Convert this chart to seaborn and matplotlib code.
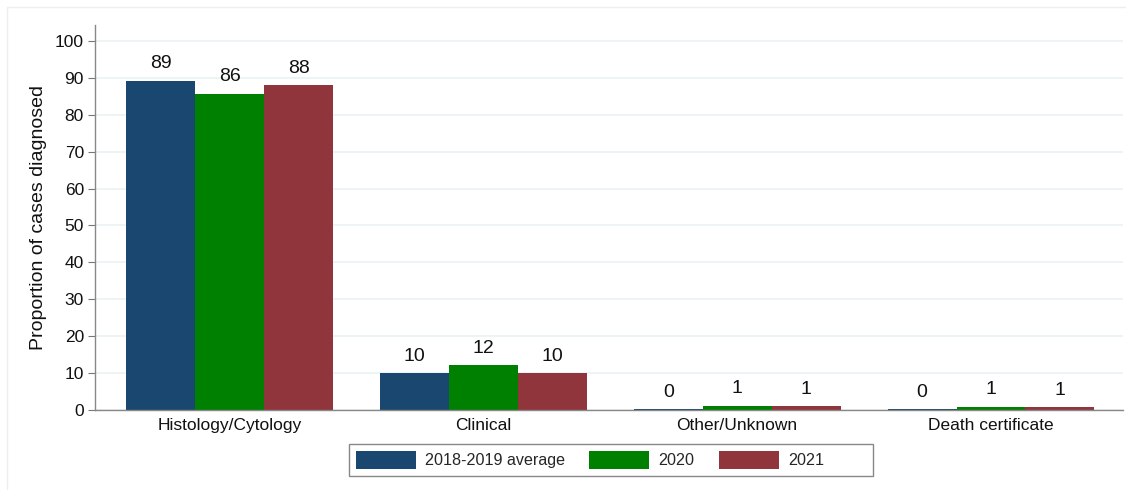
import pandas as pd
import matplotlib
matplotlib.use('Agg')
import matplotlib.pyplot as plt
import seaborn as sns
from matplotlib.patches import Rectangle

# Data
methods = ['Histology/Cytology', 'Clinical', 'Other/Unknown', 'Death certificate']
periods = ['2018-2019 average', '2020', '2021']
avg_1819 = [89.2, 10.0, 0.3, 0.3]
y2020 = [85.7, 12.2, 1.2, 0.9]
y2021 = [88.0, 10.0, 1.1, 0.8]
colors = ['#1a476f', '#008000', '#90353b']

df = pd.DataFrame({
    'method': methods * 3,
    'period': [periods[0]] * 4 + [periods[1]] * 4 + [periods[2]] * 4,
    'pct': avg_1819 + y2020 + y2021,
})

sns.set_style('white')
plt.rcParams['font.family'] = ['Liberation Sans', 'DejaVu Sans']
plt.rcParams['font.size'] = 12

W, H = 1126, 490
fig = plt.figure(figsize=(W / 100, H / 100), dpi=100)
ax = fig.add_axes([0.0844, 0.1633, 0.9129, 0.7857])

sns.barplot(data=df, x='method', y='pct', hue='period', order=methods,
            hue_order=periods, palette=colors, saturation=1, width=0.815,
            edgecolor='none', linewidth=0, ax=ax, legend=True)

for cont in ax.containers:
    ax.bar_label(cont, fmt='%.0f', padding=6, fontsize=14, color='#111111')

ax.set_ylim(0, 104.3)
ax.set_xlim(-0.53, 3.52)
ax.set_yticks(range(0, 101, 10))
ax.yaxis.grid(True, color='#eaf2f3', linewidth=1.2)
ax.set_axisbelow(True)
ax.set_xlabel('')
ax.set_ylabel('Proportion of cases diagnosed', fontsize=14, color='#111111', labelpad=6)
ax.tick_params(axis='y', length=5, width=0.8, color='#777777', left=True,
               labelsize=12.5, labelcolor='#111111', pad=3)
ax.tick_params(axis='x', length=0, labelsize=12.5, labelcolor='#111111', pad=6)
for side in ['top', 'right']:
    ax.spines[side].set_visible(False)
for side in ['left', 'bottom']:
    ax.spines[side].set_color('#888888')
    ax.spines[side].set_linewidth(1.0)

handles, labels = ax.get_legend_handles_labels()
ax.get_legend().remove()
# legend box drawn separately so the entries sit left like in Stata
fig.patches.append(Rectangle((349 / W, 1 - 476 / H), 524 / W, 32 / H,
                             transform=fig.transFigure, fill=False,
                             edgecolor='#888888', linewidth=1.0))
fig.legend(handles, labels, loc='center left', bbox_to_anchor=(356 / W, 1 - 460 / H),
           ncol=3, frameon=False, fontsize=11.6, borderpad=0, borderaxespad=0,
           handlelength=3.7, handleheight=1.35, columnspacing=1.5,
           handletextpad=0.6)

# faint outer frame
fig.patches.append(Rectangle((0.006, -0.01), 1.0, 0.996, transform=fig.transFigure,
                             fill=False, edgecolor='#eeeeee', linewidth=1))

fig.savefig('out.png', dpi=100)
